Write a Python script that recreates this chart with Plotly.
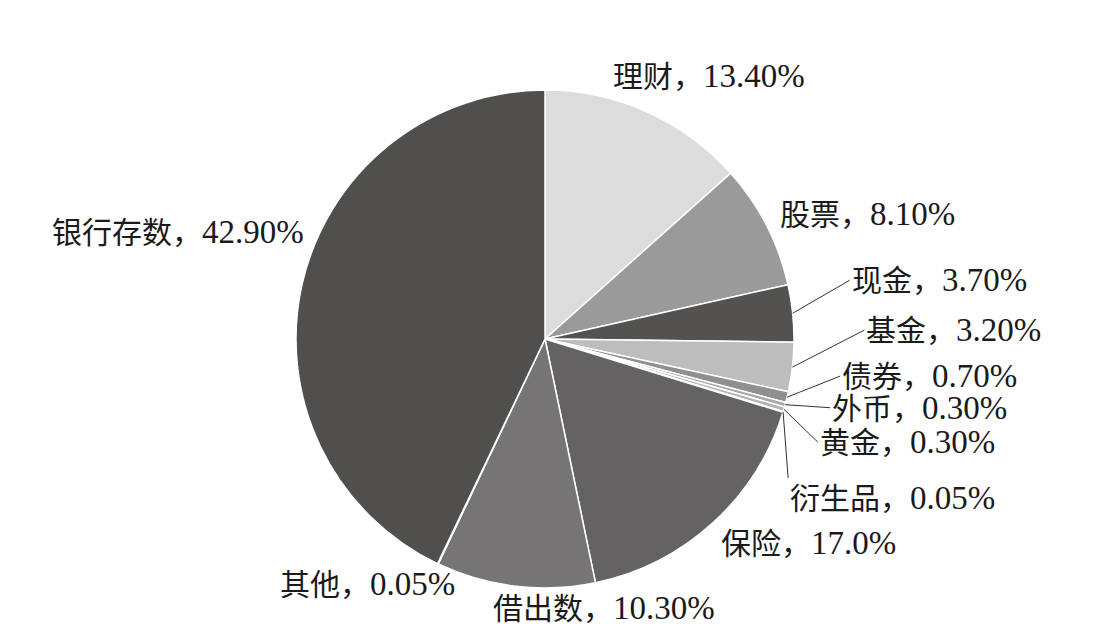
import math
import plotly.graph_objects as go

labels = ["理财", "股票", "现金", "基金", "债券", "外币", "黄金", "衍生品", "保险", "借出数", "其他", "银行存数"]
values = [13.40, 8.10, 3.70, 3.20, 0.70, 0.30, 0.30, 0.05, 17.0, 10.30, 0.05, 42.90]
shown = ["13.40%", "8.10%", "3.70%", "3.20%", "0.70%", "0.30%", "0.30%", "0.05%", "17.0%", "10.30%", "0.05%", "42.90%"]
colors = ["#dcdcdc", "#9b9a9a", "#545251", "#bdbdbd", "#8f8f8f", "#a8a8a8",
          "#b4b4b4", "#c4c4c4", "#646262", "#767475", "#cfcfcf", "#514f4d"]

W, H = 1113, 644
# pie centre / radius in pixels (page body adds an 8px offset)
CX, CY, R = 537, 331, 249

# label placement: (leader line?, anchor, dx, dy) in pixels relative to slice edge point
place = {
    "理财": (False, "left", -36, -36),
    "股票": (False, "left", 11, -11),
    "现金": (True, "left", 57, -33),
    "基金": (True, "left", 72, -37),
    "债券": (True, "left", 53, -21),
    "外币": (True, "left", 45, 3),
    "黄金": (True, "left", 34, 33),
    "衍生品": (True, "left", 5, 66),
    "保险": (False, "left", 6, 20),
    "借出数": (False, "left", -24, 22),
    "其他": (False, "right", 19, 20),
    "银行存数": (False, "right", 4, -52),
}

font = dict(family="Liberation Serif, Noto Sans CJK SC", size=30, color="#1a1a1a")

fig = go.Figure(
    go.Pie(
        labels=labels,
        values=values,
        sort=False,
        direction="clockwise",
        rotation=0,
        marker=dict(colors=colors, line=dict(color="white", width=1.5)),
        textinfo="none",
        hoverinfo="label+percent",
        domain=dict(
            x=[(CX - R) / W, (CX + R) / W],
            y=[(H - CY - R) / H, (H - CY + R) / H],
        ),
        showlegend=False,
    )
)

total = sum(values)
cum = 0
annotations = []
for lab, val, txt in zip(labels, values, shown):
    mid = (cum + val / 2) / total * 2 * math.pi
    cum += val
    ex = (CX + R * math.sin(mid)) / W
    ey = (H - CY + R * math.cos(mid)) / H
    line, anchor, dx, dy = place[lab]
    # numbers set a little larger than the CJK text, as in the source
    text = f"{lab}，<span style='font-size:33px'>{txt}</span>"
    if line:
        yanc = "top" if lab == "衍生品" else "middle"
        annotations.append(dict(
            x=ex, y=ey, xref="paper", yref="paper", text=text, font=font,
            showarrow=True, arrowhead=0, arrowwidth=1, arrowcolor="#333333",
            ax=dx, ay=dy, xanchor=anchor, yanchor=yanc,
        ))
    else:
        annotations.append(dict(
            x=ex, y=ey, xref="paper", yref="paper", text=text, font=font,
            showarrow=False, xanchor=anchor, yanchor="middle",
            xshift=dx, yshift=-dy,
        ))

fig.update_layout(
    width=W,
    height=H,
    margin=dict(l=0, r=0, t=0, b=0),
    paper_bgcolor="white",
    plot_bgcolor="white",
    annotations=annotations,
)

fig.write_html("out.html")
